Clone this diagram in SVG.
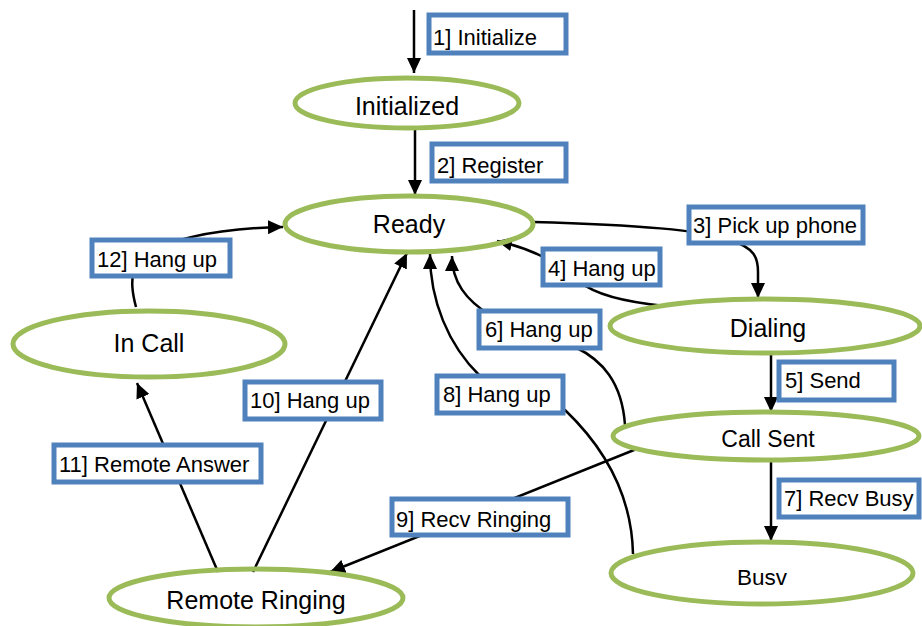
<svg xmlns="http://www.w3.org/2000/svg" width="922" height="626" viewBox="0 0 922 626">
<style>
.n{fill:none;stroke:#9BBB59;stroke-width:5}
.nt{font-family:"Liberation Sans",Arial,sans-serif;font-size:25px;fill:#000;text-anchor:middle}
.b{fill:#fff;stroke:#4F81BD;stroke-width:5}
.lt{font-family:"Liberation Sans",Arial,sans-serif;font-size:22px;fill:#000}
.c{fill:none;stroke:#000;stroke-width:2.5}
</style>
<defs>
<marker id="ah" markerUnits="userSpaceOnUse" markerWidth="16" markerHeight="14" refX="15" refY="7" orient="auto">
<path d="M0,0 L15,7 L0,14 z" fill="#000"/>
</marker>
</defs>
<g id="connectors">
<path class="c" d="M414,10 L414,73" marker-end="url(#ah)"/>
<path class="c" d="M415,129 L415,195" marker-end="url(#ah)"/>
<path class="c" d="M533,222 C640,225 700,230 730,240 C755,248 758,258 758,272 L758,298" marker-end="url(#ah)"/>
<path class="c" d="M665,306 C615,301 592,292 580,282 C560,263 530,248 497,241" marker-end="url(#ah)"/>
<path class="c" d="M771,353 L771,412" marker-end="url(#ah)"/>
<path class="c" d="M625,425 C622,382 602,360 575,347 L490,315 C466,300 452,282 452,256" marker-end="url(#ah)"/>
<path class="c" d="M771,460 L771,541" marker-end="url(#ah)"/>
<path class="c" d="M633,554 C632,505 612,455 565,410 L480,376 C448,345 430,300 430,254" marker-end="url(#ah)"/>
<path class="c" d="M639,448 L330,572" marker-end="url(#ah)"/>
<path class="c" d="M253,572 L407,253" marker-end="url(#ah)"/>
<path class="c" d="M218,572 L137,383" marker-end="url(#ah)"/>
<path class="c" d="M136,307 C132,292 131,282 134,266 C150,240 220,228 283,227" marker-end="url(#ah)"/>
</g>
<g id="node-initialized"><ellipse class="n" cx="407" cy="103" rx="112" ry="25"/><text class="nt" x="407" y="115">Initialized</text></g>
<g id="node-ready"><ellipse class="n" cx="409" cy="224" rx="124" ry="28"/><text class="nt" x="409" y="233">Ready</text></g>
<g id="node-dialing"><ellipse class="n" cx="765" cy="326" rx="155" ry="27"/><text class="nt" x="768" y="337">Dialing</text></g>
<g id="node-callsent"><ellipse class="n" cx="766" cy="436" rx="153" ry="24"/><text class="nt" x="768" y="447" style="font-size:23px">Call Sent</text></g>
<g id="node-busy"><ellipse class="n" cx="762" cy="573" rx="151" ry="31"/><text class="nt" x="762" y="585" style="font-size:22.5px">Busv</text></g>
<g id="node-incall"><ellipse class="n" cx="149" cy="344" rx="136" ry="33"/><text class="nt" x="149" y="352">In Call</text></g>
<g id="node-remoteringing"><ellipse class="n" cx="256" cy="598" rx="147" ry="29"/><text class="nt" x="256" y="609">Remote Ringing</text></g>
<g id="label-1"><rect class="b" x="429" y="15" width="137" height="38"/><text class="lt" x="433" y="45">1] Initialize</text></g>
<g id="label-2"><rect class="b" x="432" y="144" width="134" height="37"/><text class="lt" x="437" y="173">2] Register</text></g>
<g id="label-3"><rect class="b" x="689" y="207" width="174" height="36"/><text class="lt" x="693" y="233">3] Pick up phone</text></g>
<g id="label-4"><rect class="b" x="543" y="249" width="117" height="36"/><text class="lt" x="548" y="276">4] Hang up</text></g>
<g id="label-5"><rect class="b" x="779" y="362" width="115" height="38"/><text class="lt" x="785" y="388">5] Send</text></g>
<g id="label-6"><rect class="b" x="479" y="311" width="121" height="37"/><text class="lt" x="485" y="337">6] Hang up</text></g>
<g id="label-7"><rect class="b" x="779" y="480" width="140" height="37"/><text class="lt" x="784" y="506">7] Recv Busy</text></g>
<g id="label-8"><rect class="b" x="437" y="376" width="126" height="37"/><text class="lt" x="443" y="402">8] Hang up</text></g>
<g id="label-9"><rect class="b" x="392" y="499" width="176" height="36"/><text class="lt" x="396" y="527">9] Recv Ringing</text></g>
<g id="label-10"><rect class="b" x="245" y="382" width="136" height="37"/><text class="lt" x="250" y="408">10] Hang up</text></g>
<g id="label-11"><rect class="b" x="54" y="445" width="207" height="37"/><text class="lt" x="59" y="472">11] Remote Answer</text></g>
<g id="label-12"><rect class="b" x="92" y="240" width="138" height="36"/><text class="lt" x="97" y="267">12] Hang up</text></g>
</svg>
